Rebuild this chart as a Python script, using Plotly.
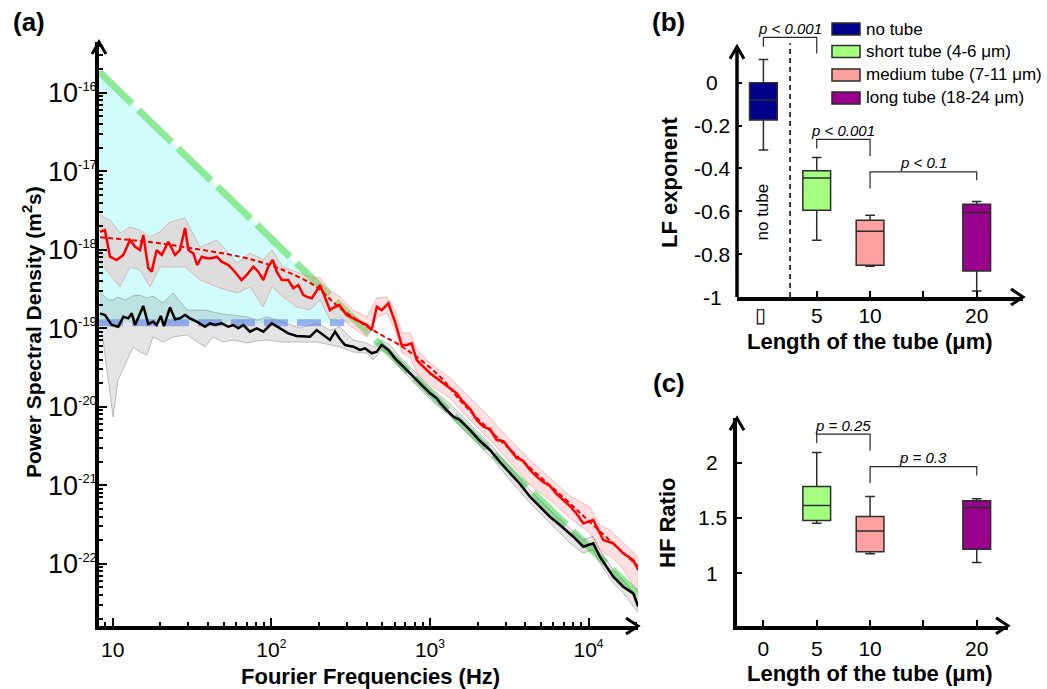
import numpy as np
import plotly.graph_objects as go

W, H = 1047, 689
FONT = "Liberation Sans, Arial, sans-serif"

# ---------------- Panel (a): values (log10 units) ----------------
red_logf = [0.920, 0.951, 0.983, 1.025, 1.067, 1.109, 1.141, 1.172, 1.193, 1.224, 1.246, 1.277, 1.309, 1.351,
            1.393, 1.424, 1.456, 1.477, 1.508, 1.533, 1.561, 1.593, 1.624, 1.656, 1.687, 1.729, 1.760, 1.813,
            1.845, 1.887, 1.918, 1.950, 1.981, 2.009, 2.034, 2.066, 2.107, 2.139, 2.170, 2.202, 2.223, 2.255,
            2.276, 2.307, 2.328, 2.370, 2.402, 2.429, 2.475, 2.517, 2.559, 2.602, 2.633, 2.665, 2.696, 2.738,
            2.780, 2.822, 2.854, 2.885, 2.917, 2.958, 3.001, 3.043, 3.084, 3.127, 3.169, 3.200, 3.259, 3.295,
            3.337, 3.379, 3.421, 3.463, 3.505, 3.547, 3.589, 3.631, 3.673, 3.715, 3.757, 3.800, 3.841, 3.883,
            3.926, 3.967, 4.030, 4.093, 4.156, 4.219, 4.282, 4.314]
red_logpsd = [-17.769, -17.748, -18.088, -18.130, -18.066, -17.875, -17.961, -18.003, -17.811, -18.232, -18.279,
              -18.003, -18.066, -17.897, -18.066, -18.003, -17.722, -18.003, -18.045, -18.194, -18.088, -18.108,
              -18.108, -18.088, -18.152, -18.194, -18.257, -18.385, -18.321, -18.215, -18.279, -18.385, -18.215,
              -18.130, -18.279, -18.385, -18.385, -18.490, -18.448, -18.576, -18.597, -18.618, -18.554, -18.448,
              -18.554, -18.767, -18.725, -18.703, -18.831, -18.873, -18.916, -18.958, -19.022, -18.725, -18.767,
              -18.682, -18.916, -19.213, -19.213, -19.191, -19.404, -19.489, -19.573, -19.637, -19.701, -19.764,
              -19.828, -19.913, -20.041, -20.168, -20.254, -20.283, -20.423, -20.436, -20.550, -20.652, -20.690,
              -20.805, -20.890, -20.958, -21.009, -21.111, -21.187, -21.264, -21.366, -21.484, -21.442, -21.697,
              -21.739, -21.866, -21.952, -22.079]

black_logf = [0.920, 0.951, 0.994, 1.035, 1.067, 1.098, 1.120, 1.141, 1.193, 1.224, 1.256, 1.277, 1.303, 1.323,
              1.361, 1.393, 1.424, 1.456, 1.487, 1.530, 1.582, 1.613, 1.645, 1.687, 1.729, 1.760, 1.792, 1.823,
              1.866, 1.908, 1.950, 2.003, 2.055, 2.107, 2.160, 2.212, 2.244, 2.286, 2.328, 2.370, 2.402, 2.429,
              2.465, 2.517, 2.559, 2.591, 2.633, 2.665, 2.696, 2.738, 2.780, 2.822, 2.864, 2.906, 2.948, 3.001,
              3.043, 3.064, 3.106, 3.148, 3.189, 3.253, 3.316, 3.379, 3.442, 3.505, 3.568, 3.631, 3.694, 3.757,
              3.820, 3.904, 3.967, 4.030, 4.072, 4.156, 4.219, 4.282, 4.314]
black_logpsd = [-18.809, -18.831, -18.958, -18.980, -18.852, -18.873, -18.809, -18.958, -18.716, -18.945, -18.916,
                -18.958, -18.843, -18.971, -18.732, -18.885, -18.873, -18.831, -18.873, -18.916, -18.980, -18.936,
                -18.958, -18.936, -18.980, -18.958, -19.000, -18.958, -19.043, -19.000, -19.043, -18.936, -19.000,
                -19.064, -19.098, -19.098, -19.107, -19.022, -19.085, -19.149, -19.043, -19.127, -19.213, -19.234,
                -19.276, -19.255, -19.318, -19.298, -19.213, -19.276, -19.382, -19.468, -19.553, -19.637, -19.722,
                -19.828, -19.892, -19.950, -20.041, -20.126, -20.168, -20.296, -20.436, -20.550, -20.703, -20.847,
                -20.983, -21.145, -21.276, -21.400, -21.506, -21.655, -21.782, -21.739, -21.910, -22.164, -22.292,
                -22.376, -22.546]

fit_logf = [0.920, 1.235, 1.487, 1.803, 1.992, 2.118, 2.276, 2.433, 2.641, 2.856, 3.064, 3.209, 3.524, 3.839,
            4.053, 4.312]
fit_logpsd = [-17.841, -17.901, -17.977, -18.088, -18.194, -18.296, -18.461, -18.741, -19.022, -19.276, -19.617,
              -19.960, -20.580, -21.150, -21.550, -22.030]

rb_logf = [0.920, 0.983, 1.046, 1.109, 1.172, 1.235, 1.298, 1.361, 1.456, 1.550, 1.658, 1.784, 1.866, 1.948,
           2.004, 2.074, 2.162, 2.244, 2.307, 2.370, 2.433, 2.515, 2.603, 2.666, 2.730, 2.780, 2.824, 2.875,
           2.919, 3.001, 3.127, 3.253, 3.379, 3.505, 3.631, 3.757, 3.883, 4.009, 4.072, 4.135, 4.200, 4.314]
rb_up = [-17.557, -17.620, -17.786, -17.710, -17.748, -17.837, -17.773, -17.646, -17.595, -17.964, -17.875,
         -18.168, -18.041, -18.130, -18.003, -18.219, -18.283, -18.346, -18.359, -18.512, -18.601, -18.767,
         -18.856, -18.614, -18.601, -18.767, -19.060, -19.060, -19.276, -19.442, -19.633, -19.888, -20.143,
         -20.423, -20.678, -20.907, -21.136, -21.276, -21.506, -21.569, -21.697, -21.913]
rb_lo = [-18.155, -18.321, -18.474, -18.219, -18.257, -18.474, -18.219, -18.219, -18.219, -18.385, -18.474,
         -18.550, -18.474, -18.729, -18.474, -18.601, -18.729, -18.767, -18.639, -18.894, -18.856, -18.996,
         -19.111, -18.856, -18.805, -19.022, -19.315, -19.366, -19.569, -19.722, -19.888, -20.168, -20.423,
         -20.703, -20.996, -21.187, -21.417, -21.608, -21.824, -21.901, -22.015, -22.372]

bb_logf = [0.920, 0.939, 0.970, 1.002, 1.033, 1.078, 1.128, 1.172, 1.216, 1.254, 1.317, 1.380, 1.468, 1.519,
           1.582, 1.632, 1.695, 1.759, 1.847, 1.910, 1.973, 2.074, 2.181, 2.288, 2.370, 2.433, 2.515, 2.603,
           2.641, 2.698, 2.748, 2.812, 2.906, 3.001, 3.127, 3.253, 3.379, 3.505, 3.631, 3.757, 3.883, 3.965,
           4.028, 4.072, 4.156, 4.219, 4.314]
bb_up = [-18.550, -18.576, -18.639, -18.639, -18.601, -18.639, -18.589, -18.576, -18.614, -18.589, -18.678,
         -18.550, -18.767, -18.767, -18.767, -18.792, -18.818, -18.831, -18.856, -18.894, -18.856, -18.920,
         -18.996, -18.932, -19.022, -18.983, -19.149, -19.187, -19.238, -19.149, -19.213, -19.366, -19.557,
         -19.748, -19.964, -20.219, -20.474, -20.767, -21.060, -21.315, -21.544, -21.697, -21.646, -21.824,
         -22.079, -22.206, -22.436]
bb_lo = [-19.022, -19.149, -19.595, -20.130, -19.659, -19.468, -19.238, -19.302, -19.340, -19.111, -19.175,
         -19.111, -19.085, -19.149, -19.238, -19.111, -19.175, -19.149, -19.187, -19.162, -19.149, -19.175,
         -19.175, -19.175, -19.213, -19.238, -19.302, -19.315, -19.404, -19.276, -19.340, -19.506, -19.710,
         -19.901, -20.117, -20.372, -20.627, -20.932, -21.225, -21.480, -21.735, -21.862, -21.824, -21.990,
         -22.245, -22.372, -22.627]

green_logf = [0.9136, 4.312]
green_logpsd = [-15.73, -22.39]
blue_logf = [0.9136, 2.46]
blue_logpsd = [-18.93, -18.93]
cyan_logf = [0.9136, 2.541, 0.9136]
cyan_logpsd = [-15.73, -18.93, -18.93]

xa_ticks = [10, 100, 1000, 10000]
xa_text = ["10", "10<sup><span style='font-size:12px'>2</span></sup>",
           "10<sup><span style='font-size:12px'>3</span></sup>",
           "10<sup><span style='font-size:12px'>4</span></sup>"]
ya_exps = [-22, -21, -20, -19, -18, -17, -16]

# ---------------- Panels (b) and (c) ----------------
groups = ["no tube", "short tube (4-6 μm)", "medium tube (7-11 μm)", "long tube (18-24 μm)"]
colors = ["rgb(0,0,140)", "rgb(164,255,128)", "rgb(255,160,160)", "rgb(153,0,140)"]
lf_pos = [0, 5, 10, 20]
lf_low = [-0.314, -0.735, -0.857, -0.972]
lf_q1 = [-0.174, -0.595, -0.852, -0.879]
lf_med = [-0.081, -0.444, -0.693, -0.606]
lf_q3 = [0.000, -0.411, -0.642, -0.567]
lf_high = [0.109, -0.349, -0.618, -0.554]

hf_pos = [5, 10, 20]
hf_low = [1.452, 1.175, 1.096]
hf_q1 = [1.476, 1.195, 1.217]
hf_med = [1.611, 1.382, 1.593]
hf_q3 = [1.783, 1.512, 1.654]
hf_high = [2.090, 1.693, 1.674]

# brackets: x_left, x_right, top, left-leg bottom, right-leg bottom, label, label y
lf_brackets = [(0, 5, 0.212, 0.168, 0.137, "p &lt; 0.001", 0.254),
               (5, 10, -0.264, -0.307, -0.343, "p &lt; 0.001", -0.221),
               (10, 20, -0.416, -0.493, -0.455, "p &lt; 0.1", -0.374)]
hf_brackets = [(5, 10, 2.257, 2.175, 2.106, "p = 0.25", 2.335),
               (10, 20, 1.964, 1.814, 1.883, "p = 0.3", 2.049)]

lf_yticks = [0, -0.2, -0.4, -0.6, -0.8, -1]
lf_ytext = ["0", "-0.2", "-0.4", "-0.6", "-0.8", "-1"]
hf_yticks = [1, 1.5, 2]
hf_ytext = ["1", "1.5", "2"]

LF_RANGE = [-1.0, 0.27]
LF_AXIS_TOP = 0.168
HF_RANGE = [0.526, 2.40]
XB_RANGE = [-2.475, 24.34]
XC_RANGE = [-2.475, 22.93]


def P(v):
    return 10 ** np.asarray(v, dtype=float)


def px(x):
    return x / W


def py(y):
    return 1 - y / H


fig = go.Figure()
A = dict(xaxis="x", yaxis="y", hoverinfo="skip", showlegend=False)

fig.add_trace(go.Scatter(x=P(cyan_logf), y=P(cyan_logpsd), mode="lines", fill="toself",
                         fillcolor="rgb(208,252,252)", line=dict(width=0), **A))
fig.add_trace(go.Scatter(x=P(green_logf), y=P(green_logpsd), mode="lines",
                         line=dict(color="rgba(130,232,140,0.9)", width=7, dash="46px,9px"), **A))
fig.add_trace(go.Scatter(x=np.concatenate([P(rb_logf), P(rb_logf)[::-1]]),
                         y=np.concatenate([P(rb_up), P(rb_lo)[::-1]]), mode="lines", fill="toself",
                         fillcolor="rgba(255,140,140,0.28)", line=dict(color="rgba(225,110,110,0.5)", width=0.8), **A))
fig.add_trace(go.Scatter(x=np.concatenate([P(bb_logf), P(bb_logf)[::-1]]),
                         y=np.concatenate([P(bb_up), P(bb_lo)[::-1]]), mode="lines", fill="toself",
                         fillcolor="rgba(120,120,120,0.2)", line=dict(color="rgba(90,90,90,0.45)", width=0.8), **A))
fig.add_trace(go.Scatter(x=P(blue_logf), y=P(blue_logpsd), mode="lines",
                         line=dict(color="rgba(105,135,230,0.65)", width=7, dash="24px,9px"), **A))
fig.add_trace(go.Scatter(x=P(fit_logf), y=P(fit_logpsd), mode="lines", line_shape="spline",
                         line=dict(color="rgb(235,0,0)", width=2, dash="5px,3px"), **A))
fig.add_trace(go.Scatter(x=P(black_logf), y=P(black_logpsd), mode="lines",
                         line=dict(color="black", width=2.5), **A))
fig.add_trace(go.Scatter(x=P(red_logf), y=P(red_logpsd), mode="lines",
                         line=dict(color="rgb(255,0,0)", width=2.5), **A))

BOXLINE = dict(color="rgb(45,45,45)", width=1.5)
for i in range(4):
    fig.add_trace(go.Box(x=[lf_pos[i]], q1=[lf_q1[i]], median=[lf_med[i]], q3=[lf_q3[i]],
                         lowerfence=[lf_low[i]], upperfence=[lf_high[i]], width=2.6, whiskerwidth=0.35,
                         fillcolor=colors[i], line=BOXLINE, boxpoints=False, xaxis="x2", yaxis="y2",
                         hoverinfo="skip", showlegend=False))
for i in range(3):
    fig.add_trace(go.Box(x=[hf_pos[i]], q1=[hf_q1[i]], median=[hf_med[i]], q3=[hf_q3[i]],
                         lowerfence=[hf_low[i]], upperfence=[hf_high[i]], width=2.6, whiskerwidth=0.35,
                         fillcolor=colors[i + 1], line=BOXLINE, boxpoints=False, xaxis="x3", yaxis="y3",
                         hoverinfo="skip", showlegend=False))

shapes = []
annotations = []


def chev_right(xd, yd, top=0.0):
    return dict(type="path", xref=xd + " domain", yref=yd + " domain", xsizemode="pixel", ysizemode="pixel",
                xanchor=1, yanchor=top, path="M -12,8 L 0,0 L -12,-8", line=dict(color="black", width=3))


def chev_up(xd, yd, top=1.0):
    return dict(type="path", xref=xd + " domain", yref=yd + " domain", xsizemode="pixel", ysizemode="pixel",
                xanchor=0, yanchor=top, path="M -7,-12 L 0,0 L 7,-12", line=dict(color="black", width=3))


# axis arrows
shapes += [chev_right("x", "y"), chev_up("x", "y"), chev_right("x2", "y2"), chev_right("x3", "y3"),
           chev_up("x3", "y3")]
lf_top_frac = (LF_AXIS_TOP - LF_RANGE[0]) / (LF_RANGE[1] - LF_RANGE[0])
shapes.append(dict(type="line", xref="x2 domain", yref="y2 domain", x0=0, x1=0, y0=0, y1=lf_top_frac,
                   line=dict(color="black", width=3.5)))
shapes.append(chev_up("x2", "y2", top=lf_top_frac))

# dashed separator in (b)
shapes.append(dict(type="line", xref="x2", yref="y2", x0=2.5, x1=2.5, y0=-1, y1=0.184,
                   line=dict(color="black", width=1.5, dash="5px,4px")))

# significance brackets
BR = dict(color="rgb(40,40,40)", width=1.2)
for (xl, xr, top, bl, brr, lab, ly), xa, ya in [(b, "x2", "y2") for b in lf_brackets] + \
                                               [(b, "x3", "y3") for b in hf_brackets]:
    shapes.append(dict(type="path", xref=xa, yref=ya,
                       path=f"M {xl},{bl} L {xl},{top} L {xr},{top} L {xr},{brr}", line=BR))
    annotations.append(dict(xref=xa, yref=ya, x=(xl + xr) / 2, y=ly, text=f"<i>{lab}</i>", showarrow=False,
                            font=dict(family=FONT, size=15, color="black"), xanchor="center", yanchor="middle"))

# y tick labels of (b) and (c) (centered, as in the original)
for v, t in zip(lf_yticks, lf_ytext):
    annotations.append(dict(xref="x2 domain", yref="y2", x=-0.087, y=v, text=t, showarrow=False,
                            font=dict(family=FONT, size=21, color="black"), xanchor="center", yanchor="middle"))
for v, t in zip(hf_yticks, hf_ytext):
    annotations.append(dict(xref="x3 domain", yref="y3", x=-0.092, y=v, text=t, showarrow=False,
                            font=dict(family=FONT, size=21, color="black"), xanchor="center", yanchor="middle"))

# glyph under the "no tube" position of (b)
annotations.append(dict(xref="x2", yref="paper", x=-0.3, y=py(315), text="▯", showarrow=False,
                        font=dict(family=FONT, size=20, color="black"), xanchor="center", yanchor="middle"))
annotations.append(dict(xref="x2", yref="y2", x=-0.1, y=-0.604, text="no tube", textangle=-90, showarrow=False,
                        font=dict(family=FONT, size=17, color="black"), xanchor="center", yanchor="middle"))

# legend of (b)
leg_rows = [29, 51.5, 75, 98]
for g, c, yy in zip(groups, colors, leg_rows):
    shapes.append(dict(type="rect", xref="paper", yref="paper", x0=px(832), x1=px(860), y0=py(yy + 6),
                       y1=py(yy - 6), fillcolor=c, line=dict(color="rgb(45,45,45)", width=1.5)))
    annotations.append(dict(xref="paper", yref="paper", x=px(864), y=py(yy), text=g, showarrow=False,
                            font=dict(family=FONT, size=17, color="black"), xanchor="left", yanchor="middle"))

# titles and panel labels
BOLD = dict(family=FONT, size=22, color="black")
annotations += [
    dict(xref="paper", yref="paper", x=px(32), y=py(332), text="<b>Power Spectral Density (m<sup>2</sup>s)</b>",
         textangle=-90, showarrow=False, font=dict(BOLD, size=21), xanchor="center", yanchor="middle"),
    dict(xref="paper", yref="paper", x=px(370), y=py(676), text="<b>Fourier Frequencies (Hz)</b>",
         showarrow=False, font=BOLD, xanchor="center", yanchor="middle"),
    dict(xref="paper", yref="paper", x=px(669), y=py(183), text="<b>LF exponent</b>", textangle=-90,
         showarrow=False, font=BOLD, xanchor="center", yanchor="middle"),
    dict(xref="paper", yref="paper", x=px(870), y=py(341), text="<b>Length of the tube (μm)</b>",
         showarrow=False, font=BOLD, xanchor="center", yanchor="middle"),
    dict(xref="paper", yref="paper", x=px(667), y=py(523), text="<b>HF Ratio</b>", textangle=-90,
         showarrow=False, font=BOLD, xanchor="center", yanchor="middle"),
    dict(xref="paper", yref="paper", x=px(870), y=py(673), text="<b>Length of the tube (μm)</b>",
         showarrow=False, font=BOLD, xanchor="center", yanchor="middle"),
]
PANEL = dict(family=FONT, size=26, color="black")
for lab, (x, y) in zip(["(a)", "(b)", "(c)"], [(29, 22), (668, 22), (669, 383)]):
    annotations.append(dict(xref="paper", yref="paper", x=px(x), y=py(y), text=f"<b>{lab}</b>",
                            showarrow=False, font=PANEL, xanchor="center", yanchor="middle"))

minor_x = [m * 10 ** k for k in range(0, 5) for m in range(2, 10)]
minor_y = [m * 10.0 ** k for k in range(-23, -15) for m in range(2, 10)]
AX = dict(showline=True, linewidth=3.5, linecolor="black", showgrid=False, zeroline=False, ticks="inside",
          tickcolor="black", fixedrange=True)

fig.update_layout(
    width=W, height=H, margin=dict(l=0, r=0, t=0, b=0), paper_bgcolor="white", plot_bgcolor="white",
    showlegend=False, hovermode=False, font=dict(family=FONT, color="black"),
    xaxis=dict(AX, type="log", domain=[px(99), px(638)], range=[0.9136, 4.312], anchor="y",
               tickmode="array", tickvals=xa_ticks, ticktext=xa_text, ticklen=8, tickwidth=2,
               tickfont=dict(family=FONT, size=21, color="black"), ticklabelstandoff=2,
               minor=dict(ticks="inside", ticklen=4, tickwidth=1.5, tickcolor="black", tickmode="array",
                          tickvals=minor_x)),
    yaxis=dict(AX, type="log", domain=[py(626), py(42)], range=[-22.792, -15.353], anchor="x",
               tickmode="array", tickvals=[10.0 ** e for e in ya_exps],
               ticktext=[f"10<sup><span style='font-size:13px'>{e}</span></sup>" for e in ya_exps],
               ticklen=8, tickwidth=2, tickfont=dict(family=FONT, size=27, color="black"), ticklabelstandoff=-7,
               minor=dict(ticks="inside", ticklen=4, tickwidth=1.5, tickcolor="black", tickmode="array",
                          tickvals=minor_y)),
    xaxis2=dict(AX, domain=[px(737), px(1023)], range=XB_RANGE, anchor="y2", tickmode="array",
                tickvals=[5, 10, 15, 20], ticktext=["5", "10", "", "20"], ticklen=6, tickwidth=2,
                tickfont=dict(family=FONT, size=21, color="black"), ticklabelstandoff=-3),
    yaxis2=dict(AX, showline=False, domain=[py(297), py(82.7 - 0.27 * 214)], range=LF_RANGE, anchor="x2",
                tickmode="array", tickvals=lf_yticks, showticklabels=False, ticklen=5, tickwidth=2),
    xaxis3=dict(AX, domain=[px(737), px(1008)], range=XC_RANGE, anchor="y3", tickmode="array",
                tickvals=[0, 5, 10, 15, 20], ticktext=["0", "5", "10", "", "20"], ticklen=6, tickwidth=2,
                tickfont=dict(family=FONT, size=21, color="black"), ticklabelstandoff=1),
    yaxis3=dict(AX, domain=[py(625.7), py(418.3)], range=HF_RANGE, anchor="x3", tickmode="array",
                tickvals=hf_yticks, showticklabels=False, ticklen=5, tickwidth=2),
    shapes=shapes, annotations=annotations,
)

fig.write_html("out.html", config={"displayModeBar": False},
               post_script="document.body.style.margin='0';document.body.style.overflow='hidden';")
